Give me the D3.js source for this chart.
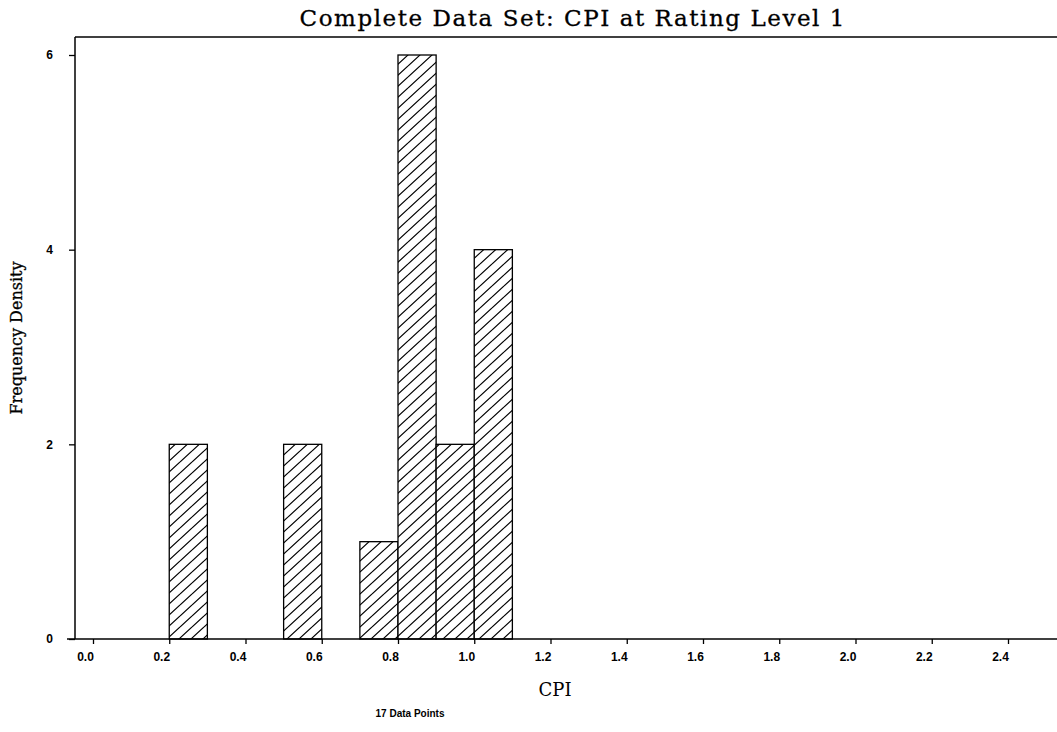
<!DOCTYPE html>
<html>
<head>
<meta charset="utf-8">
<script src="https://cdn.jsdelivr.net/npm/d3@7"></script>
<style>
  html, body { margin: 0; padding: 0; background: #fff; }
  svg { display: block; }
</style>
</head>
<body>
<svg id="chart" width="1057" height="732"></svg>
<script>
// ---- data ----
const binStarts = [0.2, 0.5, 0.7, 0.8, 0.9, 1.0];
const binWidth = 0.1;
const densities = [2, 2, 1, 6, 2, 4];
const xTicks = [0.0, 0.2, 0.4, 0.6, 0.8, 1.0, 1.2, 1.4, 1.6, 1.8, 2.0, 2.2, 2.4];
const yTicks = [0, 2, 4, 6];
const titleText = "Complete Data Set: CPI at Rating Level 1";
const xLabel = "CPI";
const yLabel = "Frequency Density";
const noteText = "17 Data Points";

const svg = d3.select("#chart");

const x = d3.scaleLinear().domain([0, 2.4]).range([93, 1008]);
const y = d3.scaleLinear().domain([0, 6]).range([639, 55]);

// hatch pattern
const defs = svg.append("defs");
const pat = defs.append("pattern")
  .attr("id", "hatch")
  .attr("patternUnits", "userSpaceOnUse")
  .attr("width", 12).attr("height", 11);
pat.append("rect").attr("width", 12).attr("height", 11).attr("fill", "#fff");
pat.append("path")
  .attr("d", "M-1,12 L13,-1 M-13,12 L1,-1 M11,12 L25,-1")
  .attr("stroke", "#000").attr("stroke-width", 1.1).attr("fill", "none");

// frame: top line and left axis
svg.append("line").attr("x1", 75).attr("x2", 1057).attr("y1", 37).attr("y2", 37)
  .attr("stroke", "#000").attr("stroke-width", 1.5);
svg.append("line").attr("x1", 75).attr("x2", 75).attr("y1", 37).attr("y2", 639)
  .attr("stroke", "#000").attr("stroke-width", 1.5);

// bars
svg.append("g").selectAll("rect")
  .data(binStarts.map((s, i) => ({s, v: densities[i]})))
  .join("rect")
  .attr("x", d => x(d.s))
  .attr("width", d => x(d.s + binWidth) - x(d.s))
  .attr("y", d => y(d.v))
  .attr("height", d => y(0) - y(d.v))
  .attr("fill", "url(#hatch)")
  .attr("stroke", "#000")
  .attr("stroke-width", 1.3);

// x axis
const xAxis = svg.append("g")
  .attr("transform", `translate(0,${y(0)})`)
  .call(d3.axisBottom(x).tickValues(xTicks).tickSize(5).tickPadding(8)
    .tickFormat(d3.format(".1f")));
xAxis.select(".domain").remove();
xAxis.selectAll(".tick line").attr("stroke", "#000").attr("stroke-width", 1.3);
xAxis.selectAll(".tick text")
  .attr("dx", -8)
  .attr("font-family", "Liberation Sans, Arial, sans-serif")
  .attr("font-weight", "bold")
  .attr("font-size", 12)
  .attr("fill", "#000");
svg.append("line").attr("x1", 67).attr("x2", 1057).attr("y1", y(0)).attr("y2", y(0))
  .attr("stroke", "#000").attr("stroke-width", 1.5);

// y axis
const yAxis = svg.append("g")
  .attr("transform", "translate(75,0)")
  .call(d3.axisLeft(y).tickValues(yTicks).tickSize(6).tickPadding(16)
    .tickFormat(d3.format("d")));
yAxis.select(".domain").remove();
yAxis.selectAll(".tick line").attr("stroke", "#000").attr("stroke-width", 1.3);
yAxis.selectAll(".tick text")
  .attr("font-family", "Liberation Sans, Arial, sans-serif")
  .attr("font-weight", "bold")
  .attr("font-size", 12)
  .attr("fill", "#000");

// title
svg.append("text")
  .attr("x", 572).attr("y", 26)
  .attr("text-anchor", "middle")
  .attr("font-family", "DejaVu Serif, serif")
  .attr("font-size", 23)
  .attr("textLength", 545)
  .attr("lengthAdjust", "spacing")
  .attr("fill", "#000")
  .attr("stroke", "#000").attr("stroke-width", 0.3)
  .text(titleText);

// y label
svg.append("text")
  .attr("transform", "translate(22,338) rotate(-90)")
  .attr("text-anchor", "middle")
  .attr("font-family", "DejaVu Serif, serif")
  .attr("font-size", 16)
  .attr("fill", "#000")
  .attr("stroke", "#000").attr("stroke-width", 0.3)
  .text(yLabel);

// x label
svg.append("text")
  .attr("x", 555).attr("y", 696)
  .attr("text-anchor", "middle")
  .attr("font-family", "DejaVu Serif, serif")
  .attr("font-size", 18)
  .attr("fill", "#000")
  .text(xLabel);

// note
svg.append("text")
  .attr("x", 410).attr("y", 717)
  .attr("text-anchor", "middle")
  .attr("font-family", "Liberation Sans, Arial, sans-serif")
  .attr("font-weight", "bold")
  .attr("font-size", 10)
  .attr("fill", "#000")
  .text(noteText);
</script>
</body>
</html>
